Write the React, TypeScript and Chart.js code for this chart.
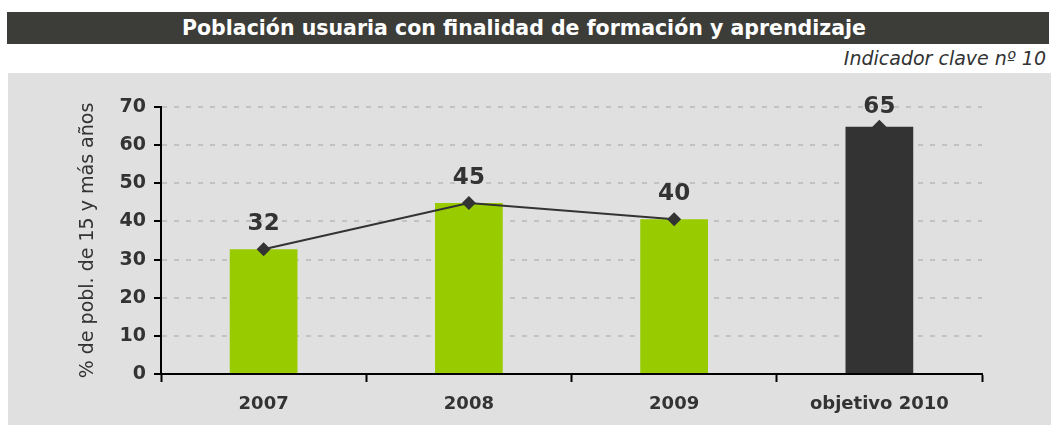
import React, { useEffect, useRef } from "react";
import { Chart, registerables } from "chart.js";

Chart.register(...registerables);

const categories = ["2007", "2008", "2009", "objetivo 2010"];
const barValues = [32.7, 44.8, 40.6, 64.8];
const lineValues: (number | null)[] = [32.7, 44.8, 40.6, 64.8];
const valueLabels = ["32", "45", "40", "65"];
const barColors = ["#99cc00", "#99cc00", "#99cc00", "#333333"];
const yTicks = [0, 10, 20, 30, 40, 50, 60, 70];

const TITLE = "Población usuaria con finalidad de formación y aprendizaje";
const SUBTITLE = "Indicador clave nº 10";
const Y_TITLE = "% de pobl. de 15 y más años";

const valueLabelPlugin = {
  id: "valueLabels",
  afterDatasetsDraw(chart: any) {
    const meta = chart.getDatasetMeta(1);
    const ctx = chart.ctx;
    ctx.save();
    ctx.font = "bold 23px 'DejaVu Sans'";
    ctx.fillStyle = "#333333";
    ctx.textAlign = "center";
    ctx.textBaseline = "middle";
    meta.data.forEach((pt: any, i: number) => {
      if (!pt || lineValues[i] == null) return;
      const off = i === 3 ? 20 : 25;
      ctx.fillText(valueLabels[i], pt.x, pt.y - off);
    });
    ctx.restore();
  },
};

export default function App() {
  const ref = useRef<HTMLCanvasElement | null>(null);

  useEffect(() => {
    if (!ref.current) return;
    const chart = new Chart(ref.current, {
      type: "bar",
      data: {
        labels: categories,
        datasets: [
          {
            type: "bar",
            data: barValues,
            backgroundColor: barColors,
            borderWidth: 0,
            barPercentage: 0.33,
            categoryPercentage: 1,
            order: 2,
          } as any,
          {
            type: "line",
            data: lineValues,
            borderColor: "#333333",
            borderWidth: 2,
            pointStyle: "rectRot",
            pointRadius: 7,
            pointBackgroundColor: "#333333",
            pointBorderColor: "#333333",
            pointBorderWidth: 0,
            segment: {
              borderColor: (c: any) => (c.p1DataIndex === 3 ? "rgba(0,0,0,0)" : "#333333"),
            },
            order: 1,
          } as any,
        ],
      },
      options: {
        animation: false,
        responsive: false,
        maintainAspectRatio: false,
        layout: { padding: { top: 37, right: 69, left: 0, bottom: 0 } },
        plugins: {
          legend: { display: false },
          tooltip: { enabled: false },
        },
        scales: {
          x: {
            offset: true,
            grid: {
              display: true,
              drawOnChartArea: false,
              drawTicks: true,
              tickLength: 8,
              tickColor: "#000000",
              tickWidth: 2,
              offset: true,
            },
            border: { display: true, color: "#000000", width: 2 },
            ticks: {
              color: "#333333",
              font: { family: "'DejaVu Sans'", size: 18, weight: "bold" },
              padding: 12,
            },
            afterFit: (s: any) => {
              s.height = 51;
            },
          },
          y: {
            min: 0,
            max: 70,
            afterBuildTicks: (s: any) => {
              s.ticks = yTicks.map((v) => ({ value: v }));
            },
            grid: {
              color: "#c2c2c2",
              lineWidth: 2,
              tickLength: 7,
              tickColor: "#000000",
              tickWidth: 2,
              tickBorderDash: [],
            },
            border: { display: true, color: "#000000", width: 2, dash: [5, 7] },
            ticks: {
              color: "#333333",
              font: { family: "'DejaVu Sans'", size: 19, weight: "bold" },
              padding: 8,
            },
            title: {
              display: true,
              text: Y_TITLE,
              color: "#333333",
              font: { family: "'DejaVu Sans'", size: 19 },
              padding: { top: 77, bottom: 0 },
            },
            afterFit: (s: any) => {
              s.width = 161;
            },
          },
        },
      },
      plugins: [valueLabelPlugin],
    });
    return () => chart.destroy();
  }, []);

  return (
    <div style={{ position: "fixed", left: 0, top: 0, width: 1051, height: 425, background: "#ffffff", overflow: "hidden" }}>
      <div
        style={{
          position: "absolute",
          left: 7,
          top: 12,
          width: 1042,
          height: 32,
          background: "#3c3d38",
          color: "#ffffff",
          fontFamily: "'DejaVu Sans'",
          fontWeight: "bold",
          fontSize: 20.5,
          lineHeight: "32px",
          textAlign: "center",
          boxSizing: "border-box",
          paddingRight: 8,
          whiteSpace: "nowrap",
        }}
      >
        {TITLE}
      </div>
      <div
        style={{
          position: "absolute",
          right: 5,
          top: 46,
          fontFamily: "'DejaVu Sans'",
          fontStyle: "italic",
          fontSize: 19,
          color: "#333333",
          lineHeight: "24px",
          whiteSpace: "nowrap",
        }}
      >
        {SUBTITLE}
      </div>
      <div style={{ position: "absolute", left: 8, top: 73, width: 1043, height: 352, background: "#e0e0e0" }} />
      <canvas
        ref={ref}
        width={1051}
        height={355}
        style={{ position: "absolute", left: 0, top: 70, width: 1051, height: 355 }}
      />
    </div>
  );
}
